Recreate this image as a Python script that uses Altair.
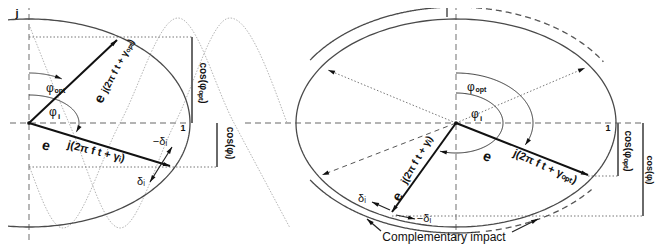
import math
import numpy as np
import pandas as pd
import altair as alt

# ---------------- geometry (image pixels, y down) ----------------
# elliptical arcs: centre, radii, start/end angle (deg, counter-clockwise), style, arrow at end
arc_id = ["L_main", "R_inner", "R_out_ul", "R_out_ll", "R_out_ur", "R_out_lr",
          "L_phiopt", "L_phii", "R_phiopt", "R_phii"]
arc_cx = [29, 456, 456, 456, 456, 456, 29, 29, 456, 456]
arc_cy = [123, 123, 120, 120, 120, 120, 123, 123, 123, 123]
arc_rx = [161, 160, 172, 172, 172, 172, 70, 50, 77, 47]
arc_ry = [104, 104, 113, 113, 113, 113, 50, 28, 50, 30]
arc_a0 = [-100, 0, 148, -148, 90, -80, 90, 90, 90, 90]
arc_a1 = [100, 360, 93, -82, 31, -38, 62, -19, -26, -110]
arc_style = ["solid", "solid", "solid", "solid", "dashed", "dashed", "thin", "thin", "thin", "thin"]
arc_arrow = [0, 0, 0, 0, 0, 0, 1, 1, 1, 1]

# straight segments
seg_x1 = [0, 245, 29, 456,
          29, 29, 392, 588, 456, 456,
          456,
          29, 29, 456, 456,
          192, 217, 618, 643,
          447, 172, 390, 396, 381, 512]
seg_y1 = [123, 123, 4, 4,
          37, 167, 216, 176, 123, 123,
          123,
          123, 123, 123, 123,
          37, 123, 123, 123,
          7, 147, 210, 215, 231, 232]
seg_x2 = [190, 643, 29, 456,
          192, 217, 643, 618, 328, 585,
          322,
          117, 170, 588, 392,
          192, 217, 618, 643,
          447, 150, 372, 415, 367, 538]
seg_y2 = [123, 123, 252, 252,
          37, 167, 216, 176, 70, 68,
          175,
          40, 166, 175, 212,
          123, 167, 176, 216,
          17, 182, 202, 219, 219, 219]
seg_style = ["axis"] * 4 + ["dot"] * 6 + ["dash2"] + ["vec"] * 4 + ["bar"] * 4 + ["thin"] * 6
seg_head = [0, 0, 0, 0,
            0, 0, 0, 0, 1, 1,
            1,
            1, 1, 1, 1,
            0, 0, 0, 0,
            0, 2, 1, 1, 1, 1]

# dotted cosine waves (extrema and crossings)
waveA_x = [30, 63, 120, 178, 234, 290]
waveA_y = [168, 228, 123, 18, 123, 228]
waveB_x = [30, 69, 120, 175, 230, 287]
waveB_y = [27, 123, 228, 123, 18, 123]

# origin dots
dot_x = [29, 456]
dot_y = [123, 123]

# bold labels
bold_t = ["j", "1", "1",
          "e", "j(2π f t + γₒₚₜ)",
          "e", "j(2π f t + γᵢ)",
          "e", "j(2π f t + γₒₚₜ)",
          "e", "j(2π f t + γᵢ)",
          "cos(φₒₚₜ)", "cos(φᵢ)", "cos(φₒₚₜ)", "cos(φᵢ)",
          "opt", "i", "opt", "i"]
bold_x = [17, 183, 608, 100, 118, 46, 96, 487, 545, 398, 417, 203, 230, 628, 650, 60, 59, 481, 481]
bold_y = [14, 128, 128, 99, 66, 146, 152, 157, 167, 197, 160, 83, 143, 151, 170, 91, 117, 90, 119]
bold_s = [11, 9, 9, 14, 9.5, 14, 11, 14, 11, 14, 10, 10, 10, 10, 9, 7, 8, 7, 8]
bold_a = [0, 0, 0, 298, 298, 14, 14, 22, 24, 300, 300, 90, 90, 90, 90, 0, 0, 0, 0]

# regular labels
reg_t = ["φ", "φ", "φ", "φ", "−δᵢ", "δᵢ", "δᵢ", "−δᵢ", "Complementary impact"]
reg_x = [50, 53, 471, 475, 160, 141, 362, 424, 444]
reg_y = [88, 112, 87, 114, 142, 182, 199, 219, 237]
reg_s = [12, 12, 12, 12, 11, 11, 11, 11, 12]

# ---------------- build tables ----------------
arc_rows, heads = [], []
for i in range(len(arc_id)):
    th = np.radians(np.linspace(arc_a0[i], arc_a1[i], 180))
    xs = arc_cx[i] + arc_rx[i] * np.cos(th)
    ys = arc_cy[i] - arc_ry[i] * np.sin(th)
    for k in range(len(th)):
        arc_rows.append(dict(id=arc_id[i], k=k, x=xs[k], y=ys[k], style=arc_style[i]))
    if arc_arrow[i]:
        heads.append((xs[-1], ys[-1], xs[-6], ys[-6]))
arcs = pd.DataFrame(arc_rows)

segs = pd.DataFrame(dict(x1=seg_x1, y1=seg_y1, x2=seg_x2, y2=seg_y2, style=seg_style))
for a, b, c, d, h in zip(seg_x1, seg_y1, seg_x2, seg_y2, seg_head):
    if h >= 1:
        heads.append((c, d, a, b))
    if h == 2:
        heads.append((a, b, c, d))

HEAD_SIZE = 49
r = math.sqrt(HEAD_SIZE) / 2
hrows = []
for tx, ty, fx, fy in heads:
    dx, dy = tx - fx, ty - fy
    L = math.hypot(dx, dy)
    ux, uy = dx / L, dy / L
    ang = math.degrees(math.atan2(dx, -dy)) % 360
    hrows.append(dict(x=tx - r * ux, y=ty - r * uy, ang=ang))
hd = pd.DataFrame(hrows)

waves = pd.DataFrame(dict(
    x=waveA_x + waveB_x, y=waveA_y + waveB_y,
    w=["A"] * len(waveA_x) + ["B"] * len(waveB_x)))

dots = pd.DataFrame(dict(x=dot_x, y=dot_y))
btxt = pd.DataFrame(dict(t=bold_t, x=bold_x, y=bold_y, s=bold_s, a=bold_a))
rtxt = pd.DataFrame(dict(t=reg_t, x=reg_x, y=reg_y, s=reg_s))

# ---------------- chart ----------------
X0, X1, Y0, Y1 = 8, 655, 8, 244
xs = alt.Scale(domain=[X0, X1], nice=False, zero=False)
ys = alt.Scale(domain=[Y0, Y1], nice=False, zero=False, reverse=True)
X = lambda f="x": alt.X(f"{f}:Q", scale=xs, axis=None)
Y = lambda f="y": alt.Y(f"{f}:Q", scale=ys, axis=None)
FONT = "Liberation Sans"


def arc_layer(style, **kw):
    return alt.Chart(arcs).transform_filter(alt.datum.style == style).mark_line(clip=True, **kw).encode(
        x=X(), y=Y(), detail="id:N", order="k:Q")


def seg_layer(style, **kw):
    return alt.Chart(segs).transform_filter(alt.datum.style == style).mark_rule(clip=True, **kw).encode(
        x=X("x1"), y=Y("y1"), x2="x2:Q", y2="y2:Q")


layers = [
    alt.Chart(waves).mark_line(clip=True, interpolate="monotone", color="#b5b5b5",
                               strokeWidth=1, strokeDash=[1.5, 1.5]).encode(x=X(), y=Y(), detail="w:N"),
    seg_layer("axis", color="#9a9a9a", strokeWidth=1.4, strokeDash=[6, 4]),
    seg_layer("dot", color="#777777", strokeWidth=1, strokeDash=[1.5, 2]),
    seg_layer("dash2", color="#555555", strokeWidth=1, strokeDash=[5, 4]),
    arc_layer("solid", color="#4a4a4a", strokeWidth=1.3),
    arc_layer("dashed", color="#555555", strokeWidth=1.3, strokeDash=[6, 4]),
    arc_layer("thin", color="#333333", strokeWidth=1),
    seg_layer("bar", color="#6a6a6a", strokeWidth=2),
    seg_layer("vec", color="#111111", strokeWidth=2),
    seg_layer("thin", color="#222222", strokeWidth=1.2),
    alt.Chart(hd).mark_point(clip=True, shape="M0,-1L0.6,1L-0.6,1Z", filled=True, color="#111111",
                             opacity=1, size=HEAD_SIZE, strokeWidth=0).encode(
        x=X(), y=Y(), angle=alt.Angle("ang:Q", scale=None)),
    alt.Chart(dots).mark_point(clip=True, filled=True, color="#111111", opacity=1, size=14).encode(x=X(), y=Y()),
    alt.Chart(btxt).mark_text(font=FONT, fontWeight="bold", color="#111111", align="center",
                              baseline="middle").encode(
        x=X(), y=Y(), text="t:N", size=alt.Size("s:Q", scale=None), angle=alt.Angle("a:Q", scale=None)),
    alt.Chart(rtxt).mark_text(font=FONT, color="#111111", align="center", baseline="middle").encode(
        x=X(), y=Y(), text="t:N", size=alt.Size("s:Q", scale=None)),
]

chart = alt.layer(*layers).properties(
    width=X1 - X0, height=Y1 - Y0, padding=0, autosize=alt.AutoSizeParams(type="none"),
    background="white",
).configure_view(strokeWidth=0)

chart.save("out.html", embed_options={"renderer": "svg", "actions": False})
